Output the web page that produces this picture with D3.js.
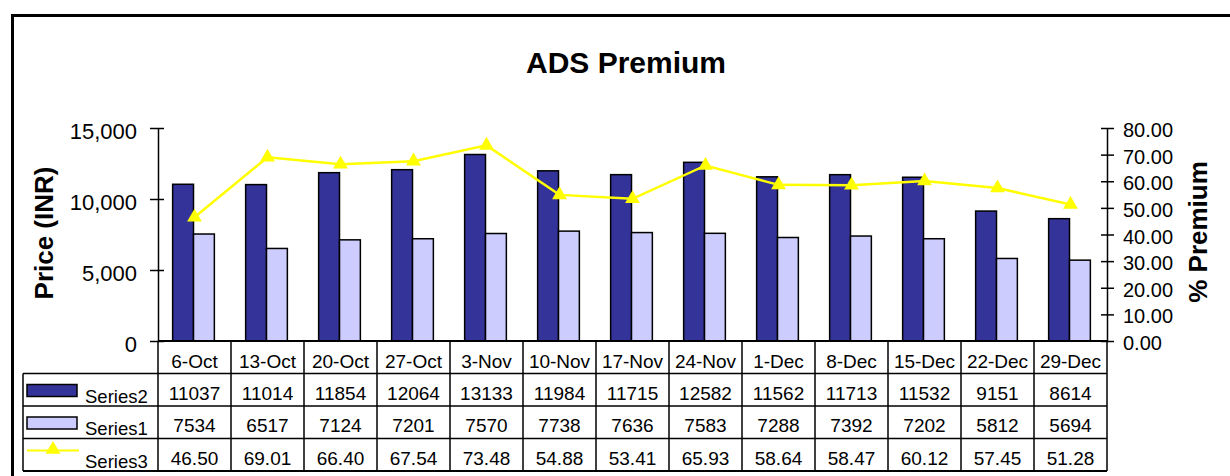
<!DOCTYPE html>
<html>
<head>
<meta charset="utf-8">
<script src="https://cdn.jsdelivr.net/npm/d3@7"></script>
<style>
  body { margin: 0; background: #fff; }
  svg { display: block; font-family: "Liberation Sans", Arial, sans-serif; }
</style>
</head>
<body>
<svg id="chart" width="1230" height="476"></svg>
<script>
// chart values
const weeks = ["6-Oct", "13-Oct", "20-Oct", "27-Oct", "3-Nov", "10-Nov", "17-Nov", "24-Nov", "1-Dec", "8-Dec", "15-Dec", "22-Dec", "29-Dec"];
const series2 = [11037, 11014, 11854, 12064, 13133, 11984, 11715, 12582, 11562, 11713, 11532, 9151, 8614];
const series1 = [7534, 6517, 7124, 7201, 7570, 7738, 7636, 7583, 7288, 7392, 7202, 5812, 5694];
const series3 = [46.50, 69.01, 66.40, 67.54, 73.48, 54.88, 53.41, 65.93, 58.64, 58.47, 60.12, 57.45, 51.28];
const priceTicks = [0, 5000, 10000, 15000];
const premiumTicks = [0, 10, 20, 30, 40, 50, 60, 70, 80];

const dark = "#333399", light = "#ccccff", yellow = "#ffff00";
const margin = {top: 128, right: 123, bottom: 135, left: 158};
const W = 1230, H = 476;
const width = W - margin.left - margin.right;   // 949
const height = H - margin.top - margin.bottom;  // 213

const svg = d3.select("#chart");

// frame
svg.append("rect")
  .attr("x", 12.5).attr("y", 15.5)
  .attr("width", 1240).attr("height", 480)
  .attr("fill", "none").attr("stroke", "#000").attr("stroke-width", 3);

svg.append("text")
  .attr("x", 626).attr("y", 73)
  .attr("text-anchor", "middle")
  .attr("font-size", 30).attr("font-weight", "bold")
  .text("ADS Premium");

const g = svg.append("g").attr("transform", `translate(${margin.left},${margin.top})`);

const x = d3.scaleBand().domain(weeks).range([0, width]).padding(0);
const bw = x.bandwidth() / 3.5;
const y = d3.scaleLinear().domain([0, 15000]).range([height, 0]);
const y2 = d3.scaleLinear().domain([0, 80]).range([height, 0]);

// bars
const groupOff = (x.bandwidth() - 2 * bw) / 2;
g.selectAll(".b2").data(series2).enter().append("rect")
  .attr("x", (d, i) => x(weeks[i]) + groupOff - 1)
  .attr("y", d => y(d))
  .attr("width", bw).attr("height", d => height - y(d))
  .attr("fill", dark).attr("stroke", "#000").attr("stroke-width", 1.5);
g.selectAll(".b1").data(series1).enter().append("rect")
  .attr("x", (d, i) => x(weeks[i]) + groupOff + bw - 1)
  .attr("y", d => y(d))
  .attr("width", bw).attr("height", d => height - y(d))
  .attr("fill", light).attr("stroke", "#000").attr("stroke-width", 1.5);

// premium line
const line = d3.line().x((d, i) => x(weeks[i]) + x.bandwidth() / 2).y(d => y2(d));
g.append("path").datum(series3)
  .attr("d", line).attr("fill", "none")
  .attr("stroke", yellow).attr("stroke-width", 2.5);
const tri = d3.symbol().type(d3.symbolTriangle).size(95);
g.selectAll(".m").data(series3).enter().append("path")
  .attr("d", tri)
  .attr("transform", (d, i) => `translate(${x(weeks[i]) + x.bandwidth() / 2},${y2(d)})`)
  .attr("fill", yellow);

// left axis
const yAxis = d3.axisLeft(y).tickValues(priceTicks).tickSizeInner(7).tickSizeOuter(0)
  .tickFormat(d3.format(","));
const ya = g.append("g").call(yAxis);
ya.attr("font-family", null);
ya.select(".domain").attr("stroke", "#000").attr("stroke-width", 1.5);
ya.selectAll(".tick line").attr("x1", -8).attr("x2", 6).attr("stroke-width", 1.5);
ya.selectAll(".tick text").attr("x", -21).attr("dy", 10.5).attr("font-size", 22).attr("fill", "#000");

// right axis
const y2Axis = d3.axisRight(y2).tickValues(premiumTicks).tickSizeOuter(0)
  .tickFormat(d3.format(".2f"));
const yb = g.append("g").attr("transform", `translate(${width},0)`).call(y2Axis);
yb.attr("font-family", null);
yb.select(".domain").attr("stroke", "#000").attr("stroke-width", 1.5);
yb.selectAll(".tick line").attr("x1", -6).attr("x2", 7).attr("stroke-width", 1.5);
yb.selectAll(".tick text").attr("x", 16).attr("dy", 8.5).attr("font-size", 20).attr("fill", "#000");

// axis titles
svg.append("text")
  .attr("transform", "translate(53,233) rotate(-90)")
  .attr("text-anchor", "middle").attr("font-size", 26).attr("font-weight", "bold")
  .text("Price (INR)");
svg.append("text")
  .attr("transform", "translate(1207,232) rotate(-90)")
  .attr("text-anchor", "middle").attr("font-size", 26).attr("font-weight", "bold")
  .text("% Premium");

// data table
const rowH = 32.5;
const t = g.append("g").attr("transform", `translate(0,${height})`);
const lab = -135; // legend column left
const rows = [
  {name: "Series2", vals: series2.map(String)},
  {name: "Series1", vals: series1.map(String)},
  {name: "Series3", vals: series3.map(d => d.toFixed(2))}
];

// category row
t.selectAll(".cat").data(weeks).enter().append("text")
  .attr("x", d => x(d) + x.bandwidth() / 2).attr("y", 26.5)
  .attr("text-anchor", "middle").attr("font-size", 19)
  .text(d => d);

rows.forEach((r, ri) => {
  const top = rowH * (ri + 1);
  t.selectAll(".v" + ri).data(r.vals).enter().append("text")
    .attr("x", (d, i) => x(weeks[i]) + x.bandwidth() / 2).attr("y", top + 26)
    .attr("text-anchor", "middle").attr("font-size", 19)
    .text(d => d);
  t.append("text").attr("x", lab + 62).attr("y", top + 29)
    .attr("font-size", 18.5).text(r.name);
});

// legend keys
t.append("rect").attr("x", lab + 4).attr("y", rowH + 11).attr("width", 50).attr("height", 12)
  .attr("fill", dark).attr("stroke", "#000").attr("stroke-width", 1.5);
t.append("rect").attr("x", lab + 4).attr("y", 2 * rowH + 11).attr("width", 50).attr("height", 12)
  .attr("fill", light).attr("stroke", "#000").attr("stroke-width", 1.5);
t.append("line").attr("x1", lab + 4).attr("x2", lab + 56)
  .attr("y1", 3 * rowH + 12).attr("y2", 3 * rowH + 12)
  .attr("stroke", yellow).attr("stroke-width", 2);
t.append("path").attr("d", tri)
  .attr("transform", `translate(${lab + 30},${3 * rowH + 11})`).attr("fill", yellow);

// grid lines
const gl = t.append("g").attr("stroke", "#000").attr("stroke-width", 1.5);
[0, 1, 2, 3, 4].forEach(k => {
  gl.append("line")
    .attr("x1", k === 0 ? 0 : lab).attr("x2", width)
    .attr("y1", k * rowH).attr("y2", k * rowH)
    .attr("stroke-width", k === 0 || k === 4 ? 2 : 1.5);
});
weeks.forEach(w => {
  gl.append("line").attr("x1", x(w)).attr("x2", x(w)).attr("y1", 0).attr("y2", 4 * rowH);
});
gl.append("line").attr("x1", width).attr("x2", width).attr("y1", 0).attr("y2", 4 * rowH);
gl.append("line").attr("x1", lab).attr("x2", lab).attr("y1", rowH).attr("y2", 4 * rowH);
</script>
</body>
</html>
